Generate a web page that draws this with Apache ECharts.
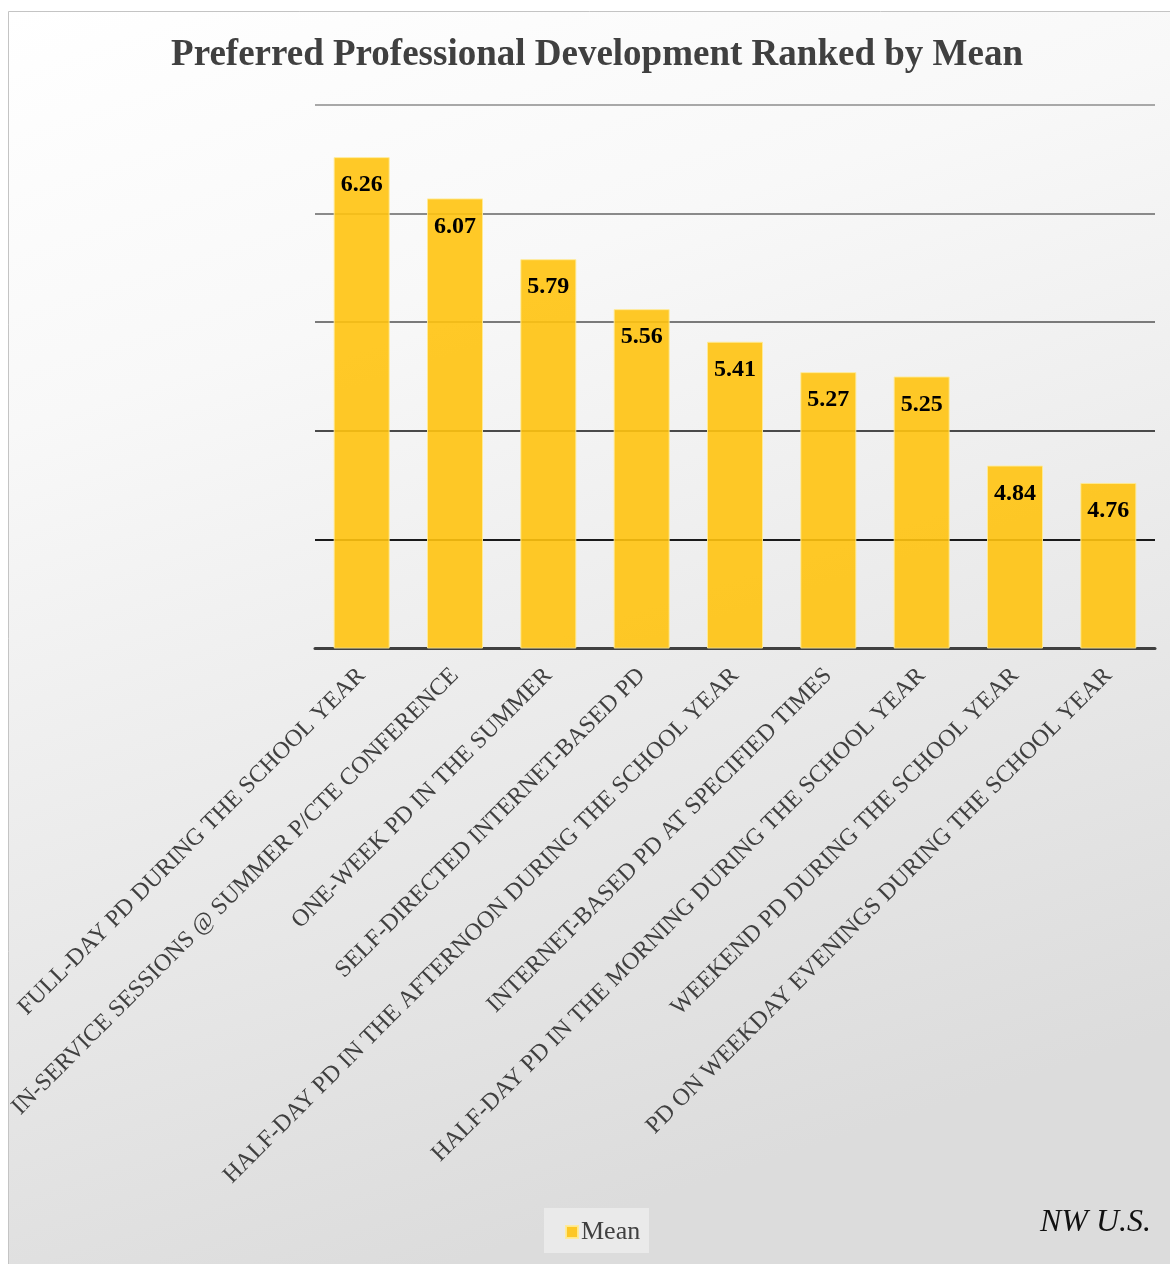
<!DOCTYPE html>
<html>
<head>
<meta charset="utf-8">
<title>Preferred Professional Development Ranked by Mean</title>
<script src="https://cdn.jsdelivr.net/npm/echarts@6/dist/echarts.min.js"></script>
<style>
  html, body { margin: 0; padding: 0; background: #fff; }
  #main { width: 1170px; height: 1264px; }
</style>
</head>
<body>
<div id="main"></div>
<script>
// 数据
var categories = [
  'FULL-DAY PD DURING THE SCHOOL YEAR',
  'IN-SERVICE SESSIONS @ SUMMER P/CTE CONFERENCE',
  'ONE-WEEK PD IN THE SUMMER',
  'SELF-DIRECTED INTERNET-BASED PD',
  'HALF-DAY PD IN THE AFTERNOON DURING THE SCHOOL YEAR',
  'INTERNET-BASED PD AT SPECIFIED TIMES',
  'HALF-DAY PD IN THE MORNING DURING THE SCHOOL YEAR',
  'WEEKEND PD DURING THE SCHOOL YEAR',
  'PD ON WEEKDAY EVENINGS DURING THE SCHOOL YEAR'
];
var meanValues = [6.26, 6.07, 5.79, 5.56, 5.41, 5.27, 5.25, 4.84, 4.76];
var yMin = 4, yMax = 6.5, yStep = 0.5;

var chart = echarts.init(document.getElementById('main'));

var option = {
  animation: false,
  // 标题
  title: {
    text: 'Preferred Professional Development Ranked by Mean',
    left: 592,
    top: 32,
    textAlign: 'center',
    textStyle: {
      fontFamily: 'Liberation Serif',
      fontWeight: 'bold',
      fontSize: 37,
      color: '#404040'
    }
  },
  // 背景框
  graphic: [
    {
      type: 'rect',
      z: -10,
      silent: true,
      shape: { x: 8.5, y: 11.5, width: 1170, height: 1264 },
      style: {
        fill: new echarts.graphic.LinearGradient(0, 0, 0.35, 1, [
          { offset: 0, color: '#ffffff' },
          { offset: 0.3, color: '#f8f8f8' },
          { offset: 1, color: '#dcdcdc' }
        ]),
        stroke: '#c4c4c4',
        lineWidth: 1
      }
    },
    {
      type: 'rect',
      z: -5,
      silent: true,
      shape: { x: 544, y: 1208, width: 105, height: 45 },
      style: { fill: 'rgba(240,240,240,0.7)' }
    },
    {
      type: 'text',
      left: 1040,
      top: 1207,
      style: {
        text: 'NW U.S.',
        fontFamily: 'Liberation Serif',
        fontStyle: 'italic',
        fontSize: 32,
        fill: '#111'
      }
    }
  ],
  legend: {
    data: ['Mean'],
    left: 560,
    top: 1214,
    itemWidth: 12,
    itemHeight: 12,
    itemGap: 4,
    icon: 'rect',
    textStyle: {
      fontFamily: 'Liberation Serif',
      fontSize: 26,
      color: '#404040',
      padding: [0, 0, 0, -2]
    }
  },
  grid: {
    left: 315,
    right: 15,
    top: 105,
    bottom: 616
  },
  xAxis: {
    type: 'category',
    data: categories,
    axisTick: { show: false },
    axisLine: { lineStyle: { color: '#404040', width: 3 } },
    axisLabel: {
      rotate: 45,
      interval: 0,
      margin: 24,
      fontFamily: 'Liberation Serif',
      fontSize: 24,
      color: '#404040'
    }
  },
  yAxis: {
    type: 'value',
    min: yMin,
    max: yMax,
    interval: yStep,
    axisLabel: { show: false },
    axisLine: { show: false },
    axisTick: { show: false },
    splitLine: {
      lineStyle: {
        color: ['transparent', '#1a1a1a', '#4a4a4a', '#7a7a7a', '#8a8a8a', '#a8a8a8'],
        width: 2
      }
    }
  },
  series: [
    {
      name: 'Mean',
      type: 'bar',
      data: meanValues,
      barWidth: '60%',
      itemStyle: {
        color: 'rgba(255,195,15,0.9)',
        borderColor: 'rgba(255,235,150,0.9)',
        borderWidth: 1
      },
      label: {
        show: true,
        position: 'insideTop',
        distance: 16,
        fontFamily: 'Liberation Serif',
        fontWeight: 'bold',
        fontSize: 24,
        color: '#000'
      }
    }
  ]
};

chart.setOption(option);
</script>
</body>
</html>
